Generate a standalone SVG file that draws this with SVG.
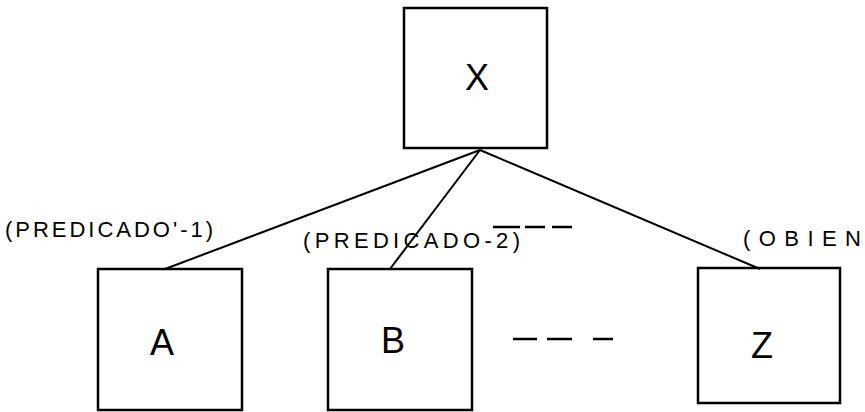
<svg xmlns="http://www.w3.org/2000/svg" width="865" height="412" viewBox="0 0 865 412">
<style>
.box{fill:none;stroke:#000;stroke-width:2.5}
.lbl{font-family:"Liberation Sans",Arial,sans-serif;font-size:36px;fill:#000;text-anchor:middle}
.edge{font-family:"Liberation Sans",Arial,sans-serif;font-size:22px;fill:#000}
.ln{stroke:#000;stroke-width:2;fill:none}
.dash{stroke:#000;stroke-width:2.5}
</style>
<rect width="865" height="412" fill="#fff"/>
<g id="node-X"><rect class="box" x="404" y="8" width="143" height="140"/><text class="lbl" x="477" y="90">X</text></g>
<g id="node-A"><rect class="box" x="98" y="269" width="144" height="141"/><text class="lbl" x="162" y="355">A</text></g>
<g id="node-B"><rect class="box" x="328" y="269" width="144" height="141"/><text class="lbl" x="393" y="353">B</text></g>
<g id="node-Z"><rect class="box" x="698" y="268" width="142" height="135"/><text class="lbl" x="762" y="358">Z</text></g>
<g id="connectors">
<line class="ln" x1="480" y1="150" x2="165" y2="269"/>
<line class="ln" x1="480" y1="150" x2="390" y2="269"/>
<line class="ln" x1="480" y1="150" x2="760" y2="269" stroke-width="2.5"/>
<line class="dash" x1="493" y1="227" x2="520" y2="227"/>
<line class="dash" x1="525" y1="227" x2="545" y2="227"/>
<line class="dash" x1="552" y1="227" x2="572" y2="227"/>
<line class="dash" x1="513" y1="339" x2="537" y2="339"/>
<line class="dash" x1="547" y1="339" x2="572" y2="339"/>
<line class="dash" x1="593" y1="339" x2="613" y2="339"/>
</g>
<text class="edge" x="5" y="237" textLength="208" lengthAdjust="spacing">(PREDICADO'-1)</text>
<text class="edge" x="303" y="248" textLength="217" lengthAdjust="spacing">(PREDICADO-2)</text>
<text class="edge" x="743" y="246" textLength="118" lengthAdjust="spacing">(OBIEN</text>
</svg>
